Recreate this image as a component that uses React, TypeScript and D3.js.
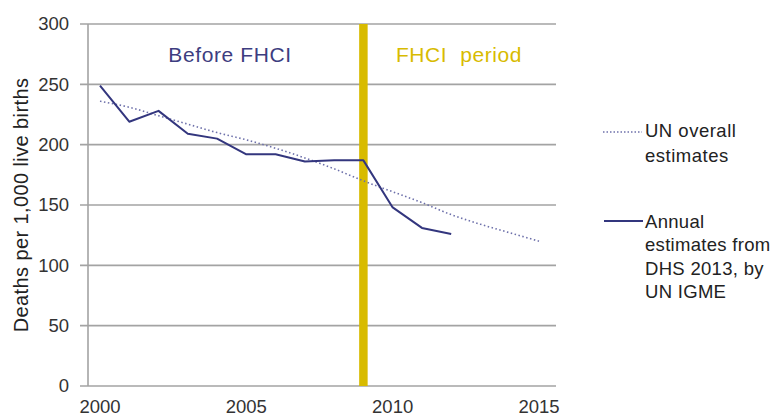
import React from "react";
import * as d3 from "d3";

const years = [2000, 2001, 2002, 2003, 2004, 2005, 2006, 2007, 2008, 2009, 2010, 2011, 2012, 2013, 2014, 2015];
const unEstimates = [236, 231, 224, 217, 210, 204, 197, 189, 180, 170, 161, 152, 142, 134, 127, 120];
const annualYears = [2000, 2001, 2002, 2003, 2004, 2005, 2006, 2007, 2008, 2009, 2010, 2011, 2012];
const annualEstimates = [249, 219, 228, 209, 205, 192, 192, 186, 187, 187, 148, 131, 126];
const yTicks = [0, 50, 100, 150, 200, 250, 300];
const xTicks = [2000, 2005, 2010, 2015];
const fhciStart = 2009;
const yTitle = "Deaths per 1,000 live births";
const legendUN = ["UN overall", "estimates"];
const legendAnnual = ["Annual", "estimates from", "DHS 2013, by", "UN IGME"];

export default function App() {
  const W = 778, H = 416;
  const plotLeft = 88, plotRight = 556, plotTop = 24, plotBottom = 386;
  const x = d3.scaleLinear().domain([2000, 2015]).range([100, 539]);
  const y = d3.scaleLinear().domain([0, 300]).range([plotBottom, plotTop]);

  const unLine = d3.line<number>().x((_, i) => x(years[i])).y((d) => y(d)).curve(d3.curveMonotoneX)(unEstimates) || "";
  const annLine = d3.line<number>().x((_, i) => x(annualYears[i])).y((d) => y(d))(annualEstimates) || "";

  const font = "'Liberation Sans', Arial, sans-serif";
  const gridColor = "#a3a3a3";
  const navy = "#33367e";
  const gold = "#d8bb00";

  return (
    <svg width={W} height={H} style={{ position: "absolute", left: 0, top: 0, background: "#fff" }} fontFamily={font}>
      <rect x={0} y={0} width={W} height={H} fill="#fff" />
      {yTicks.map((t) => (
        <g key={t}>
          <line x1={80} x2={plotRight} y1={y(t)} y2={y(t)} stroke={gridColor} strokeWidth={1.6} />
          <text x={69} y={y(t)} dy="0.35em" textAnchor="end" fontSize={18.5} fill="#333">{t}</text>
        </g>
      ))}
      <line x1={plotLeft} x2={plotLeft} y1={plotTop} y2={plotBottom} stroke={gridColor} strokeWidth={1.6} />
      {xTicks.map((t) => (
        <text key={t} x={x(t)} y={413} textAnchor="middle" fontSize={18.5} fill="#333">{t}</text>
      ))}
      <line x1={x(fhciStart)} x2={x(fhciStart)} y1={plotTop} y2={plotBottom} stroke={gold} strokeWidth={8.5} />
      <path d={unLine} fill="none" stroke="#6d70aa" strokeWidth={1.6} strokeDasharray="1.5 2.5" />
      <path d={annLine} fill="none" stroke={navy} strokeWidth={2} strokeLinejoin="round" />
      <text x={230} y={62} textAnchor="middle" fontSize={21} fill="#3d3d80" letterSpacing={0.6}>Before FHCI</text>
      <text x={459} y={62} textAnchor="middle" fontSize={21} fill={gold} letterSpacing={0.6} xmlSpace="preserve">FHCI  period</text>
      <text transform={`translate(28,${205}) rotate(-90)`} textAnchor="middle" fontSize={20} letterSpacing={0.4} fill="#222">{yTitle}</text>
      <line x1={603} x2={642} y1={132} y2={132} stroke="#6d70aa" strokeWidth={1.5} strokeDasharray="1.5 2" />
      {legendUN.map((s, i) => (
        <text key={s} x={645} y={137 + i * 25} fontSize={18.5} letterSpacing={0.5} fill="#222">{s}</text>
      ))}
      <line x1={604} x2={643} y1={221} y2={221} stroke={navy} strokeWidth={2} />
      {legendAnnual.map((s, i) => (
        <text key={s} x={645} y={228 + i * 23.3} fontSize={18.5} letterSpacing={0.3} fill="#222">{s}</text>
      ))}
    </svg>
  );
}
